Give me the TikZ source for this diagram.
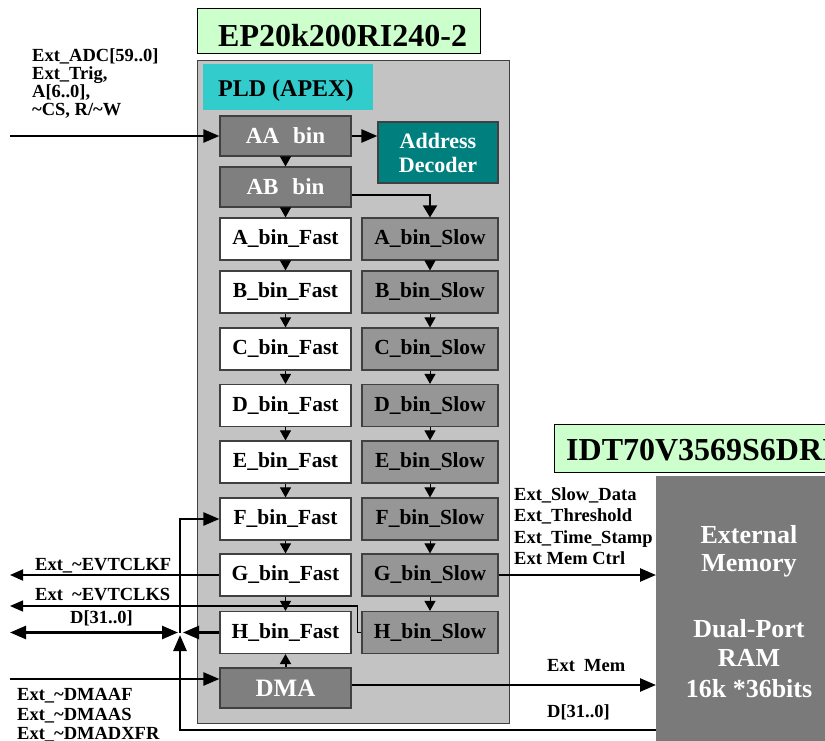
\documentclass[tikz,border=0pt]{standalone}
\usepackage{fontspec}
\setmainfont{Liberation Serif}
\usetikzlibrary{arrows.meta,calc}
\definecolor{ltgreen}{HTML}{CCFFCC}
\definecolor{pldgray}{HTML}{C3C3C3}
\definecolor{apexcyan}{HTML}{33CCCC}
\definecolor{bindark}{HTML}{7F7F7F}
\definecolor{slowgray}{HTML}{969696}
\definecolor{decteal}{HTML}{007F7F}
\definecolor{memgray}{HTML}{7A7A7A}
\definecolor{edgegray}{HTML}{404040}
\newcommand{\tld}{\textasciitilde}
\begin{document}
\begin{tikzpicture}[x=1pt,y=-1pt,
  binbox/.style={draw=edgegray, line width=1.2pt, minimum width=131pt, minimum height=42pt, inner sep=0pt, font=\fontsize{21.5}{24}\selectfont\bfseries},
  fastbox/.style={binbox, fill=white},
  slowbox/.style={binbox, fill=slowgray, minimum width=136pt},
  darkbox/.style={binbox, fill=bindark, text=white, minimum height=40pt, font=\fontsize{23}{26}\selectfont\bfseries},
  titlebox/.style={draw=black, line width=1.2pt, fill=ltgreen, anchor=north west, inner sep=0pt},
  titletext/.style={font=\fontsize{32}{36}\selectfont\bfseries, anchor=base west, inner sep=0pt},
  wire/.style={line width=2.5pt},
  big/.style={wire, -{Triangle[length=16pt,width=13pt]}},
  mid/.style={line width=1.8pt, -{Triangle[length=13pt,width=11pt]}},
  small/.style={line width=1pt, -{Triangle[length=10pt,width=11pt]}},
  lbl/.style={font=\fontsize{18.5}{21}\selectfont\bfseries, inner sep=0pt, anchor=base west},
  memtext/.style={font=\fontsize{26}{30}\selectfont\bfseries, text=white, inner sep=0pt, anchor=base}
]
\useasboundingbox (0,0) rectangle (825,741);
\fill[white] (0,0) rectangle (825,741);

% FPGA
\node[titlebox, minimum width=283pt, minimum height=45pt] (eptitle) at (197,8) {};
\node[titletext] (eptext) at (218,47) {EP20k200RI240-2};
\node[draw=edgegray, line width=1.2pt, fill=pldgray, anchor=north west, minimum width=312pt, minimum height=663pt, inner sep=0pt] (pld) at (197,60) {};
\node[fill=apexcyan, anchor=north west, minimum width=170pt, minimum height=46pt, inner sep=0pt] (apex) at (203,64) {};
\node[font=\fontsize{24}{28}\selectfont\bfseries, anchor=base west, inner sep=0pt] (apextext) at (218,97) {PLD (APEX)};

% memory
\node[titlebox, minimum width=300pt, minimum height=48pt] (idttitle) at (554,424) {};
\node[titletext] (idttext) at (566,460) {IDT70V3569S6DRI};
\node[fill=memgray, anchor=north west, minimum width=200pt, minimum height=300pt, inner sep=0pt] (mem) at (656,476) {};
\node[memtext] (m1) at (749,543) {External};
\node[memtext] (m2) at (749,571) {Memory};
\node[memtext] (m3) at (749,637) {Dual-Port};
\node[memtext] (m4) at (749,666) {RAM};
\node[memtext] (m5) at (749,697) {16k *36bits};

% bins
\node[darkbox] (aa) at (285.5,136) {AA\hspace{14pt}bin};
\node[darkbox] (ab) at (285.5,187) {AB\hspace{14pt}bin};
\node[draw=edgegray, line width=1.2pt, fill=decteal, text=white, minimum width=120pt, minimum height=61pt, inner sep=0pt, align=center, font=\fontsize{22}{24}\selectfont\bfseries] (dec) at (438,152.5) {Address\\Decoder};

\node[fastbox] (afast) at (285.5,239) {A\_bin\_Fast};
\node[fastbox] (bfast) at (285.5,292) {B\_bin\_Fast};
\node[fastbox] (cfast) at (285.5,349) {C\_bin\_Fast};
\node[fastbox] (dfast) at (285.5,405.5) {D\_bin\_Fast};
\node[fastbox] (efast) at (285.5,462) {E\_bin\_Fast};
\node[fastbox] (ffast) at (285.5,519) {F\_bin\_Fast};
\node[fastbox] (gfast) at (285.5,575) {G\_bin\_Fast};
\node[fastbox] (hfast) at (285.5,632.5) {H\_bin\_Fast};

\node[slowbox] (aslow) at (430,239) {A\_bin\_Slow};
\node[slowbox] (bslow) at (430,292) {B\_bin\_Slow};
\node[slowbox] (cslow) at (430,349) {C\_bin\_Slow};
\node[slowbox] (dslow) at (430,405.5) {D\_bin\_Slow};
\node[slowbox] (eslow) at (430,462) {E\_bin\_Slow};
\node[slowbox] (fslow) at (430,519) {F\_bin\_Slow};
\node[slowbox] (gslow) at (430,575) {G\_bin\_Slow};
\node[slowbox] (hslow) at (430,632.5) {H\_bin\_Slow};

\node[darkbox, font=\fontsize{25}{28}\selectfont\bfseries] (dma) at (285.5,688) {DMA};

% internal arrows
\draw[small] (aa.south) -- (ab.north);
\draw[small] (ab.south) -- (afast.north);
\foreach \u/\v in {afast/bfast,bfast/cfast,cfast/dfast,dfast/efast,efast/ffast,ffast/gfast,gfast/hfast,aslow/bslow,bslow/cslow,cslow/dslow,dslow/eslow,eslow/fslow,fslow/gslow,gslow/hslow}
  \draw[small] (\u.south) -- (\v.north);
\draw[small, line width=2pt] (dma.north) -- (hfast.south);
\draw[big] (aa.east) -- (aa.east -| dec.west);
\draw[line width=2pt, -{Triangle[length=12pt,width=14pt]}] ($(ab.east)+(0,8)$) -| (aslow.north);

% left inputs / outputs
\coordinate (inadc) at (10,136);
\draw[big] (inadc) -- (aa.west);
\node[lbl] (l1) at (32,62) {Ext\_ADC[59..0]};
\node[lbl] (l2) at (32,80) {Ext\_Trig,};
\node[lbl] (l3) at (32,98) {A[6..0],};
\node[lbl] (l4) at (32,116) {\tld CS, R/\tld W};

\coordinate (evf) at (10,575);
\draw[mid] (gfast.west) -- (gfast.west -| evf);
\node[lbl] (levf) at (35,570) {Ext\_\tld EVTCLKF};

\coordinate (evs) at (10,606);
\draw[line width=1.3pt, -{Triangle[length=13pt,width=11pt]}] (hslow.west) -- ++(-4,0) |- (evs);
\node[lbl] (levs) at (35,600) {Ext\hspace{0.5em}\tld EVTCLKS};

\coordinate (J) at (180,632.5);
\coordinate (dl) at (10,632.5);
\coordinate (jl) at (178,632.5);
\coordinate (jr) at (183,632.5);
\coordinate (jd) at (180,635);
\draw[wire, {Triangle[length=16pt,width=13pt]}-{Triangle[length=16pt,width=13pt]}] (dl) -- (jl);
\draw[big] (hfast.west) -- (jr);
\node[lbl] (ld) at (70,623) {D[31..0]};

\coordinate (jb) at (180,730);
\draw[big] (jb -| mem.west) -- (jb) -- (jd);
\draw[big] (J) |- (ffast.west);

\coordinate (dmain) at (10,679);
\draw[big] (dmain) -- (dmain -| dma.west);
\node[lbl] (ld1) at (17,700) {Ext\_\tld DMAAF};
\node[lbl] (ld2) at (17,720) {Ext\_\tld DMAAS};
\node[lbl] (ld3) at (17,739) {Ext\_\tld DMADXFR};

% right side
\draw[big] (gslow.east) -- (gslow.east -| mem.west);
\node[lbl] (r1) at (514,500) {Ext\_Slow\_Data};
\node[lbl] (r2) at (514,521) {Ext\_Threshold};
\node[lbl] (r3) at (514,543) {Ext\_Time\_Stamp};
\node[lbl] (r4) at (514,564) {Ext Mem Ctrl};

\coordinate (dmaout) at ($(dma.east)+(0,-3)$);
\draw[big] (dmaout) -- (dmaout -| mem.west);
\node[lbl] (r5) at (547,671) {Ext\hspace{0.5em}Mem};
\node[lbl] (r6) at (547,717) {D[31..0]};
\end{tikzpicture}
\end{document}
